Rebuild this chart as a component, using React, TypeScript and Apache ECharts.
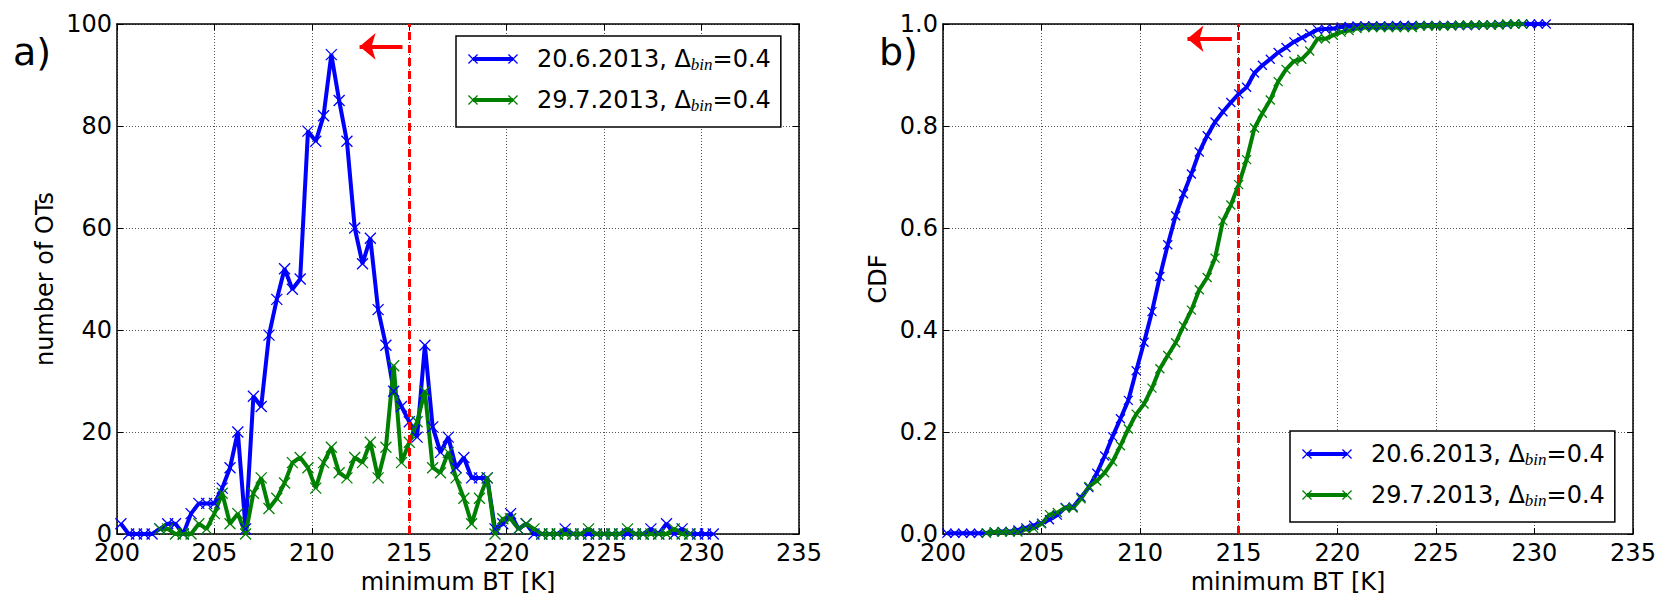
import React, { useEffect, useRef } from "react";
import * as echarts from "echarts";

// ---------- data ----------
const SERIES_NAMES = ["20.6.2013, Δbin=0.4", "29.7.2013, Δbin=0.4"];

const BIN_CENTERS = [
  200.2, 200.6, 201.0, 201.4, 201.8, 202.2, 202.6, 203.0, 203.4, 203.8,
  204.2, 204.6, 205.0, 205.4, 205.8, 206.2, 206.6, 207.0, 207.4, 207.8,
  208.2, 208.6, 209.0, 209.4, 209.8, 210.2, 210.6, 211.0, 211.4, 211.8,
  212.2, 212.6, 213.0, 213.4, 213.8, 214.2, 214.6, 215.0, 215.4, 215.8,
  216.2, 216.6, 217.0, 217.4, 217.8, 218.2, 218.6, 219.0, 219.4, 219.8,
  220.2, 220.6, 221.0, 221.4, 221.8, 222.2, 222.6, 223.0, 223.4, 223.8,
  224.2, 224.6, 225.0, 225.4, 225.8, 226.2, 226.6, 227.0, 227.4, 227.8,
  228.2, 228.6, 229.0, 229.4, 229.8, 230.2, 230.6,
];

// 20.6.2013 histogram (starts at BIN_CENTERS[0])
const HIST_0620 = [
  2, 0, 0, 0, 0, 1, 2, 2, 0, 4,
  6, 6, 6, 9, 13, 20, 1, 27, 25, 39,
  46, 52, 48, 50, 79, 77, 82, 94, 85, 77,
  60, 53, 58, 44, 37, 28, 25, 22, 19, 37,
  21, 16, 19, 13, 15, 11, 11, 11, 1, 2,
  4, 1, 2, 0, 0, 0, 0, 1, 0, 0,
  0, 0, 0, 0, 0, 0, 0, 0, 1, 0,
  2, 0, 1, 0, 0, 0, 0,
];

// 29.7.2013 histogram (starts at BIN_CENTERS[5])
const GREEN_START = 5;
const HIST_0729 = [
  1, 1, 0, 0, 0, 2, 1, 4, 8, 2,
  4, 0, 8, 11, 5, 7, 10, 14, 15, 13,
  9, 14, 17, 12, 11, 15, 14, 18, 11, 17,
  33, 14, 18, 22, 28, 13, 12, 16, 11, 7,
  2, 7, 11, 0, 3, 3, 1, 2, 1, 0,
  0, 0, 0, 0, 0, 1, 0, 0, 0, 0,
  1, 0, 0, 0, 0, 0, 1, 0, 0,
];

const CDF_0620 = [
  0.0015, 0.0015, 0.0015, 0.0015, 0.0015, 0.002, 0.004, 0.005, 0.005, 0.008,
  0.012, 0.017, 0.021, 0.028, 0.037, 0.052, 0.053, 0.072, 0.091, 0.119,
  0.153, 0.191, 0.226, 0.262, 0.32, 0.376, 0.436, 0.505, 0.567, 0.624,
  0.667, 0.706, 0.749, 0.781, 0.808, 0.828, 0.846, 0.863, 0.876, 0.904,
  0.919, 0.931, 0.944, 0.954, 0.965, 0.973, 0.981, 0.989, 0.99, 0.991,
  0.994, 0.995, 0.996, 0.996, 0.996, 0.996, 0.996, 0.997, 0.997, 0.997,
  0.997, 0.997, 0.997, 0.997, 0.997, 0.997, 0.997, 0.997, 0.998, 0.998,
  0.999, 0.999, 1.0, 1.0, 1.0, 1.0, 1.0,
];

const CDF_0729 = [
  0.002, 0.004, 0.004, 0.004, 0.004, 0.009, 0.011, 0.02, 0.038, 0.042,
  0.051, 0.051, 0.069, 0.093, 0.104, 0.12, 0.142, 0.173, 0.206, 0.235,
  0.255, 0.286, 0.324, 0.35, 0.375, 0.408, 0.439, 0.479, 0.503, 0.541,
  0.614, 0.645, 0.685, 0.734, 0.796, 0.825, 0.851, 0.887, 0.911, 0.927,
  0.931, 0.947, 0.971, 0.971, 0.978, 0.984, 0.987, 0.991, 0.993, 0.993,
  0.993, 0.993, 0.993, 0.993, 0.993, 0.996, 0.996, 0.996, 0.996, 0.996,
  0.998, 0.998, 0.998, 0.998, 0.998, 0.998, 1.0, 1.0, 1.0,
];

const X_MIN = 200;
const X_MAX = 235;
const X_STEP = 5;
const HIST_Y = { min: 0, max: 100, step: 20 };
const CDF_Y = { min: 0, max: 1, step: 0.2 };
const THRESHOLD = 215;
const ARROW_HIST = { from: [214.65, 95.6], to: [212.45, 95.6] };
const ARROW_CDF = { from: [214.65, 0.971], to: [212.4, 0.971] };

// ---------- styling ----------
const FONT = "DejaVu Sans";
const BLUE = "#0000ff";
const GREEN = "#008000";
const RED = "#ff0000";
const X_SYMBOL = "path://M0,0L10,10M10,0L0,10";
const LEGEND_ICON =
  "path://M5,5L45,5L45,9L5,9Z M0,2.9L0.9,2L10,11.1L9.1,12Z M0,11.1L9.1,2L10,2.9L0.9,12Z M40,2.9L40.9,2L50,11.1L49.1,12Z M40,11.1L49.1,2L50,2.9L40.9,12Z";

const labelStyle = { fontSize: 24, color: "#000", fontFamily: FONT };

function xAxis(gridIndex: number, pos: "bottom" | "top") {
  const bottom = pos === "bottom";
  return {
    type: "value",
    gridIndex,
    position: pos,
    min: X_MIN,
    max: X_MAX,
    interval: X_STEP,
    axisLine: { show: true, onZero: false, lineStyle: { color: "#000", width: 1.5 } },
    axisTick: { show: true, inside: true, length: 6, lineStyle: { color: "#000", width: 1 } },
    axisLabel: bottom ? { show: true, margin: 11, lineHeight: 16, ...labelStyle } : { show: false },
    splitLine: bottom
      ? { show: true, lineStyle: { color: "#555", width: 1, type: [1, 2] } }
      : { show: false },
    name: bottom ? "minimum BT [K]" : "",
    nameLocation: "middle",
    nameGap: 36,
    nameTextStyle: labelStyle,
  };
}

function yAxis(
  gridIndex: number,
  pos: "left" | "right",
  r: { min: number; max: number; step: number },
  name: string,
  nameGap: number,
  fmt?: (v: number) => string
) {
  const left = pos === "left";
  return {
    type: "value",
    gridIndex,
    position: pos,
    min: r.min,
    max: r.max,
    interval: r.step,
    axisLine: { show: true, onZero: false, lineStyle: { color: "#000", width: 1.5 } },
    axisTick: { show: true, inside: true, length: 6, lineStyle: { color: "#000", width: 1 } },
    axisLabel: left
      ? { show: true, margin: 5, lineHeight: 16, formatter: fmt, ...labelStyle }
      : { show: false },
    splitLine: left
      ? { show: true, lineStyle: { color: "#555", width: 1, type: [1, 2] } }
      : { show: false },
    name: left ? name : "",
    nameLocation: "middle",
    nameGap,
    nameTextStyle: labelStyle,
  };
}

function lineSeries(
  name: string,
  color: string,
  xIdx: number,
  yIdx: number,
  data: number[][],
  symbolSize: number,
  extra: any = {}
) {
  return {
    type: "line",
    name,
    xAxisIndex: xIdx,
    yAxisIndex: yIdx,
    data,
    symbol: X_SYMBOL,
    symbolSize,
    showSymbol: true,
    showAllSymbol: true,
    lineStyle: { color, width: 4 },
    itemStyle: { color, borderColor: color, borderWidth: 1.3 },
    emphasis: { disabled: true },
    ...extra,
  };
}

function markers(arrow: { from: number[]; to: number[] }) {
  return {
    silent: true,
    animation: false,
    label: { show: false },
    symbol: ["none", "none"],
    data: [
      {
        xAxis: THRESHOLD,
        lineStyle: { color: RED, width: 3, type: [8, 5] },
      },
      [
        { coord: arrow.from, symbol: "none", lineStyle: { color: RED, width: 4, type: "solid" } },
        { coord: arrow.to, symbol: "arrow", symbolSize: [20, 16] },
      ],
    ],
  };
}

function legend(left: number, top: number) {
  return {
    show: true,
    orient: "vertical",
    left,
    top,
    data: SERIES_NAMES,
    icon: LEGEND_ICON,
    itemWidth: 50,
    itemHeight: 10,
    itemGap: 13,
    padding: [9, 10, 13, 12],
    borderColor: "#000",
    borderWidth: 1.5,
    borderRadius: 0,
    backgroundColor: "#fff",
    selectedMode: false,
    itemStyle: { borderWidth: 0 },
    formatter: (n: string) => n.replace("bin", "{sub|bin}"),
    textStyle: {
      fontSize: 24,
      fontFamily: FONT,
      color: "#000",
      lineHeight: 28,
      padding: [0, 0, 0, 14],
      rich: {
        sub: {
          fontSize: 17,
          fontFamily: "Liberation Serif",
          fontStyle: "italic",
          color: "#000",
          verticalAlign: "bottom",
          lineHeight: 10,
        },
      },
    },
  };
}

const hist0620 = BIN_CENTERS.map((x, i) => [x, HIST_0620[i]]);
const hist0729 = HIST_0729.map((v, i) => [BIN_CENTERS[GREEN_START + i], v]);
const cdf0620 = BIN_CENTERS.map((x, i) => [x, CDF_0620[i]]);
const cdf0729 = CDF_0729.map((v, i) => [BIN_CENTERS[GREEN_START + i], v]);

const panelTitle = { fontSize: 38, fontWeight: "normal", fontFamily: FONT, color: "#000", lineHeight: 38 };

const option = {
  animation: false,
  backgroundColor: "#fff",
  textStyle: { fontFamily: FONT },
  title: [
    { text: "a)", left: 13, top: 33, padding: 0, textStyle: panelTitle },
    { text: "b)", left: 879, top: 33, padding: 0, textStyle: panelTitle },
  ],
  grid: [
    { left: 117, top: 24, width: 682, height: 511 },
    { left: 943, top: 24, width: 690, height: 511 },
  ],
  xAxis: [xAxis(0, "bottom"), xAxis(0, "top"), xAxis(1, "bottom"), xAxis(1, "top")],
  yAxis: [
    yAxis(0, "left", HIST_Y, "number of OTs", 60),
    yAxis(0, "right", HIST_Y, "", 0),
    yAxis(1, "left", CDF_Y, "CDF", 53, (v: number) => v.toFixed(1)),
    yAxis(1, "right", CDF_Y, "", 0),
  ],
  legend: [legend(456, 36), legend(1290, 431)],
  series: [
    lineSeries(SERIES_NAMES[0], BLUE, 0, 0, hist0620, 11),
    lineSeries(SERIES_NAMES[1], GREEN, 0, 0, hist0729, 11, { markLine: markers(ARROW_HIST) }),
    lineSeries(SERIES_NAMES[0], BLUE, 2, 2, cdf0620, 9),
    lineSeries(SERIES_NAMES[1], GREEN, 2, 2, cdf0729, 9, { markLine: markers(ARROW_CDF) }),
  ],
};

export default function App() {
  const ref = useRef<HTMLDivElement>(null);
  useEffect(() => {
    if (!ref.current) return;
    const chart = echarts.init(ref.current, null, { renderer: "svg" });
    chart.setOption(option as any);
    return () => chart.dispose();
  }, []);
  return (
    <div
      ref={ref}
      style={{ position: "absolute", left: 0, top: 0, width: 1667, height: 599, background: "#fff" }}
    />
  );
}
